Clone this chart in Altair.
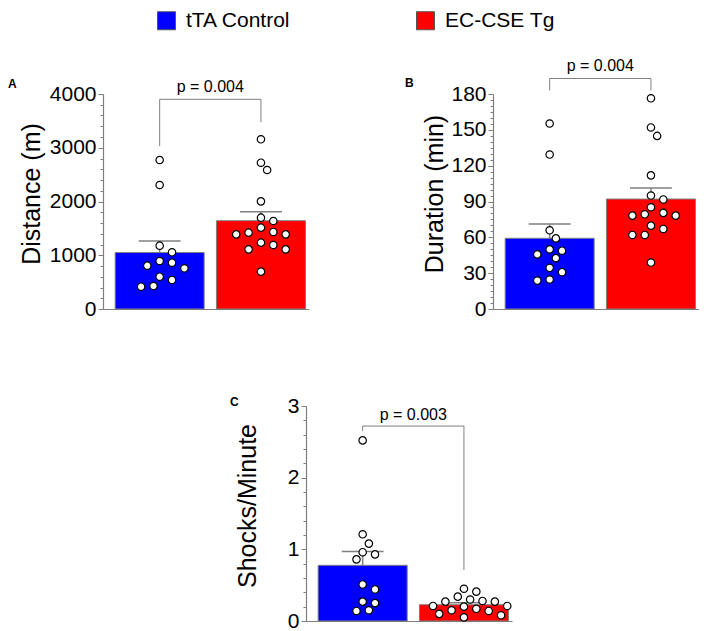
import altair as alt
import pandas as pd

# ---------------- data ----------------
groups = ["tTA Control", "EC-CSE Tg"]
colors = ["#0000FF", "#FF0000"]

dist_ctrl = [2772, 2307, 1178, 1055, 893, 806, 757, 861, 540, 601, 415, 428]
dist_tg = [3157, 2722, 2586, 2003, 1699, 1637, 1513, 1420, 1389, 1389, 1433,
           1234, 1191, 1110, 1110, 695]

dur_ctrl = [155.3, 129.3, 65.9, 59.1, 49.9, 45.7, 48.8, 42.6, 34.5, 30.8, 23.8, 24.7]
dur_tg = [176.4, 152.0, 144.9, 111.9, 95.0, 91.7, 85.2, 79.3, 78.2, 78.2, 80.5,
          69.8, 67.0, 62.0, 62.0, 38.9]

shk_ctrl = [2.52, 1.21, 1.08, 0.96, 0.93, 0.86, 0.51, 0.44, 0.25, 0.27, 0.14, 0.15]
shk_tg = [0.45, 0.41, 0.34, 0.30, 0.27, 0.27, 0.28, 0.21, 0.20, 0.21, 0.17,
          0.15, 0.14, 0.10, 0.08, 0.05]

p_labels = ["p = 0.004", "p = 0.004", "p = 0.003"]
# bracket annotation levels (data units): top, left-leg end, right-leg end, text baseline
bracket_top = [3901, 193, 2.72]
bracket_left = [3033, 183, 2.65]
bracket_right = [3473, 183, 0.71]
p_text_y = [4037, 199, 2.81]

y_titles = ["Distance (m)", "Duration (min)", "Shocks/Minute"]
y_max = [4000, 180, 3]
y_major = [1000, 30, 1]
letters = ["A", "B", "C"]

# ---------------- layout / style ----------------
FONT = "Liberation Sans"
W, H = 206, 215
XDOM = [-0.51, 1.425]
PPU_X = W / (XDOM[1] - XDOM[0])
GRAY = "#7f7f7f"


def swarm(vals, ppu_y, diam=9.5, step=6.5):
    order = sorted(range(len(vals)), key=lambda i: -vals[i])
    cands = [0.0]
    for k in range(1, 14):
        cands += [k * step, -k * step]
    placed, offs = [], [0.0] * len(vals)
    for i in order:
        y = vals[i] * ppu_y
        chosen = cands[-1]
        for c in cands:
            if all((c - px) ** 2 + (y - py) ** 2 >= diam ** 2 for px, py in placed):
                chosen = c
                break
        placed.append((chosen, y))
        offs[i] = chosen / PPU_X
    return offs


def panel(k, ctrl, tg, tpad, letter_x, letter_y, minor_vals):
    ymax, major = y_max[k], y_major[k]
    ppu_y = H / ymax
    df = pd.DataFrame({
        "group": [groups[0]] * len(ctrl) + [groups[1]] * len(tg),
        "gidx": [0] * len(ctrl) + [1] * len(tg),
        "value": ctrl + tg,
    })
    df["xj"] = df["gidx"] + pd.Series(swarm(ctrl, ppu_y) + swarm(tg, ppu_y))

    is_major = f"abs(datum.value / {major} - round(datum.value / {major})) < 0.000001"
    xaxis = alt.Axis(title=None, labels=False, ticks=False, grid=False,
                     domainColor=GRAY, domainWidth=1.2)
    yaxis = alt.Axis(
        title=y_titles[k], values=minor_vals, grid=False,
        labelExpr=f"({is_major}) ? format(datum.value, 'd') : ''",
        labelOverlap=False, labelFontSize=21, titleFontSize=25,
        titleFontWeight="normal", labelColor="black", titleColor="black",
        domainColor=GRAY, domainWidth=1.2, tickColor=GRAY, tickWidth=1,
        tickSize={"condition": {"test": is_major, "value": 5}, "value": 3},
        labelPadding=2, titlePadding=tpad, titleY=H / 2 - 8,
    )
    xs = alt.Scale(domain=XDOM, nice=False, zero=False)
    ys = alt.Scale(domain=[0, ymax], nice=False)

    base = alt.Chart(df)
    agg = base.transform_aggregate(
        mean="mean(value)", sem="stderr(value)", groupby=["group", "gidx"]
    ).transform_calculate(
        upper="datum.mean + datum.sem",
        cl=f"datum.gidx - {22 / PPU_X}",
        cr=f"datum.gidx + {22 / PPU_X}",
    )
    color = alt.Color("group:N", scale=alt.Scale(domain=groups, range=colors),
                      legend=alt.Legend(
                          title=None, orient="none", direction="horizontal",
                          legendX=53, legendY=-84, symbolType="square",
                          symbolSize=324, symbolStrokeColor="#555555",
                          symbolStrokeWidth=1, symbolOpacity=1,
                          labelFontSize=21, labelFont=FONT, labelColor="black",
                          labelOffset=9, columnPadding=123, padding=0))

    bars = agg.mark_bar(size=89, stroke=GRAY, strokeWidth=1, opacity=1).encode(
        x=alt.X("gidx:Q", scale=xs, axis=xaxis),
        y=alt.Y("mean:Q", scale=ys, axis=yaxis),
        color=color,
    )
    err = agg.mark_rule(color=GRAY, strokeWidth=1.5).encode(
        x=alt.X("gidx:Q", scale=xs, axis=xaxis),
        y=alt.Y("mean:Q", scale=ys, axis=yaxis),
        y2="upper:Q",
    )
    cap = agg.mark_rule(color=GRAY, strokeWidth=1.5).encode(
        x=alt.X("cl:Q", scale=xs, axis=xaxis),
        x2="cr:Q",
        y=alt.Y("upper:Q", scale=ys, axis=yaxis),
    )
    pts = base.mark_circle(size=55, color="white", stroke="black",
                           strokeWidth=1.2, opacity=1).encode(
        x=alt.X("xj:Q", scale=xs, axis=xaxis),
        y=alt.Y("value:Q", scale=ys, axis=yaxis),
    )

    bdf = pd.DataFrame({"x0": [0], "x1": [1], "top": [bracket_top[k]],
                        "yl": [bracket_left[k]], "yr": [bracket_right[k]],
                        "ty": [p_text_y[k]], "xm": [0.5], "txt": [p_labels[k]]})
    bb = alt.Chart(bdf)
    h_rule = bb.mark_rule(color=GRAY, strokeWidth=1).encode(
        x=alt.X("x0:Q", scale=xs, axis=xaxis), x2="x1:Q",
        y=alt.Y("top:Q", scale=ys, axis=yaxis))
    l_rule = bb.mark_rule(color=GRAY, strokeWidth=1).encode(
        x=alt.X("x0:Q", scale=xs, axis=xaxis),
        y=alt.Y("yl:Q", scale=ys, axis=yaxis), y2="top:Q")
    r_rule = bb.mark_rule(color=GRAY, strokeWidth=1).encode(
        x=alt.X("x1:Q", scale=xs, axis=xaxis),
        y=alt.Y("yr:Q", scale=ys, axis=yaxis), y2="top:Q")
    ptext = bb.mark_text(font=FONT, fontSize=16, color="black",
                         baseline="alphabetic", align="center").encode(
        x=alt.X("xm:Q", scale=xs, axis=xaxis),
        y=alt.Y("ty:Q", scale=ys, axis=yaxis),
        text="txt:N")

    ldf = pd.DataFrame({"t": [letters[k]]})
    letter = alt.Chart(ldf).mark_text(font=FONT, fontSize=12, fontWeight="bold",
                                      color="black", align="left",
                                      baseline="middle").encode(
        x=alt.value(letter_x), y=alt.value(letter_y), text="t:N")

    return alt.layer(bars, err, cap, pts, h_rule, l_rule, r_rule, ptext, letter).properties(
        width=W, height=H)


minA = list(range(0, 4001, 200))
minB = list(range(0, 181, 5))
minC = [0, 0.2, 0.4, 0.6, 0.8, 1, 1.2, 1.4, 1.6, 1.8, 2, 2.2, 2.4, 2.6, 2.8, 3]

pA = panel(0, dist_ctrl, dist_tg, 5, -95, -10, minA)
pB = panel(1, dur_ctrl, dur_tg, 3, -88, -11, minB)
pC = panel(2, shk_ctrl, shk_tg, 27, -76, -4, minC)

spacer = alt.Chart(pd.DataFrame({"s": [0]})).mark_point(opacity=0).properties(
    width=1, height=H)

row1 = alt.hconcat(pA, pB, spacing=184, bounds="flush")
row2 = alt.hconcat(spacer, pC, spacing=202, bounds="flush")

# nested flush rows contribute no height of their own, so the gap includes row 1's height
chart = alt.vconcat(row1, row2, spacing=H + 97, bounds="flush").properties(
    padding={"top": 2, "left": 0, "right": 0, "bottom": 0}
).configure_view(stroke=None).configure_axis(labelFont=FONT, titleFont=FONT)

chart.save("out.html", embed_options={"renderer": "svg", "actions": False})
